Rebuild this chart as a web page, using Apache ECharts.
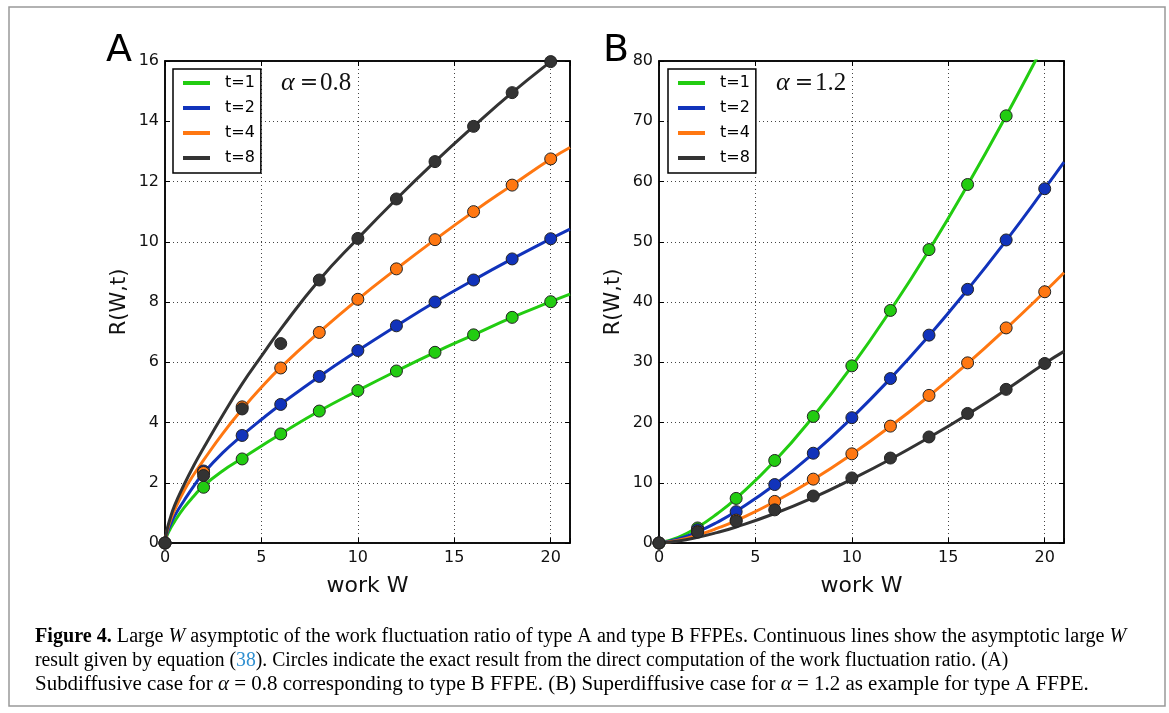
<!DOCTYPE html>
<html>
<head>
<meta charset="utf-8">
<script src="https://cdn.jsdelivr.net/npm/echarts@6/dist/echarts.min.js"></script>
<style>
html,body{margin:0;padding:0;background:#fff;}
#c{width:1169px;height:713px;}
</style>
</head>
<body>
<div id="c"></div>
<script>
// ---------- data ----------
const seriesNames = ['t=1', 't=2', 't=4', 't=8'];
const colors = ['#22cc11', '#1133bb', '#ff7711', '#333333'];

// Panel A (alpha = 0.8): asymptotic lines
const wLineA = [0, 0.1, 0.25, 0.5, 1, 1.5, 2, 3, 4, 5, 6, 8, 10, 12, 14, 16, 18, 20, 21];
const lineA_t1 = [0, 0.24, 0.44, 0.72, 1.18, 1.56, 1.90, 2.40, 2.81, 3.22, 3.62, 4.38, 5.06, 5.71, 6.33, 6.91, 7.49, 8.01, 8.26];
const lineA_t2 = [0, 0.30, 0.56, 0.90, 1.42, 1.90, 2.32, 3.00, 3.57, 4.10, 4.60, 5.53, 6.39, 7.21, 8.00, 8.73, 9.43, 10.10, 10.42];
const lineA_t4 = [0, 0.38, 0.70, 1.10, 1.75, 2.28, 2.75, 3.64, 4.44, 5.17, 5.83, 7.00, 8.09, 9.10, 10.07, 11.00, 11.88, 12.75, 13.13];
const lineA_t8 = [0, 0.42, 0.78, 1.25, 1.95, 2.58, 3.15, 4.25, 5.28, 6.20, 7.10, 8.73, 10.11, 11.42, 12.66, 13.83, 14.95, 15.98, 16.45];

// Panel A: exact result (circles)
const wDotA = [0, 2, 4, 6, 8, 10, 12, 14, 16, 18, 20];
const dotA_t1 = [0, 1.85, 2.79, 3.62, 4.38, 5.06, 5.71, 6.33, 6.91, 7.49, 8.01];
const dotA_t2 = [0, 2.39, 3.57, 4.60, 5.53, 6.39, 7.21, 8.00, 8.73, 9.43, 10.10];
const dotA_t4 = [0, 2.34, 4.52, 5.81, 6.99, 8.09, 9.10, 10.07, 11.00, 11.88, 12.75];
const dotA_t8 = [0, 2.24, 4.45, 6.62, 8.73, 10.11, 11.42, 12.66, 13.83, 14.95, 15.98];

// Panel B (alpha = 1.2): asymptotic lines
const wLineB = [0, 1, 2, 3, 4, 6, 8, 10, 12, 14, 16, 18, 20, 21];
const lineB_t1 = [0, 0.93, 2.62, 4.82, 7.42, 13.6, 21.0, 29.35, 38.6, 48.6, 59.4, 70.9, 83.0, 89.3];
const lineB_t2 = [0, 0.66, 1.86, 3.41, 5.26, 9.66, 14.87, 20.78, 27.3, 34.4, 42.05, 50.2, 58.8, 63.2];
const lineB_t4 = [0, 0.47, 1.32, 2.42, 3.73, 6.85, 10.54, 14.74, 19.37, 24.4, 29.8, 35.6, 41.7, 44.85];
const lineB_t8 = [0, 0.33, 0.94, 1.73, 2.66, 4.9, 7.55, 10.6, 13.9, 17.5, 21.35, 25.45, 29.8, 31.8];

// Panel B: exact result (circles)
const wDotB = [0, 2, 4, 6, 8, 10, 12, 14, 16, 18, 20];
const dotB_t1 = [0, 2.5, 7.4, 13.7, 21.0, 29.4, 38.6, 48.7, 59.5, 70.9];
const dotB_t2 = [0, 2.2, 5.2, 9.7, 14.9, 20.8, 27.3, 34.5, 42.1, 50.3, 58.8];
const dotB_t4 = [0, 1.9, 3.8, 6.9, 10.6, 14.8, 19.4, 24.5, 29.9, 35.7, 41.7];
const dotB_t8 = [0, 1.8, 3.6, 5.5, 7.8, 10.8, 14.1, 17.6, 21.5, 25.5, 29.8];

const xTicks = [0, 5, 10, 15, 20];

// ---------- build ----------
const pair = (xs, ys) => ys.map((y, i) => [xs[i], y]);
const linesA = [lineA_t1, lineA_t2, lineA_t4, lineA_t8];
const dotsA = [dotA_t1, dotA_t2, dotA_t4, dotA_t8];
const linesB = [lineB_t1, lineB_t2, lineB_t4, lineB_t8];
const dotsB = [dotB_t1, dotB_t2, dotB_t4, dotB_t8];

const FONT = 'DejaVu Sans';
const gridW = 405, gridH = 482, gridTop = 61;
const grids = [
  {left: 165, top: gridTop, width: gridW, height: gridH},
  {left: 659, top: gridTop, width: gridW, height: gridH}
];

function xAxisMain(g) {
  return {
    gridIndex: g, type: 'value', min: 0, max: 21, interval: 5,
    axisLine: {show: true, onZero: false, lineStyle: {color: '#000', width: 1.5}},
    axisTick: {show: true, inside: true, length: 5, lineStyle: {color: '#000', width: 1}},
    axisLabel: {color: '#111', fontSize: 16, fontFamily: FONT, margin: 7,
      formatter: v => (xTicks.indexOf(v) >= 0 ? String(v) : '')},
    splitLine: {show: true, lineStyle: {color: '#444', width: 1, type: [1, 3]}},
    name: 'work W', nameLocation: 'middle', nameGap: 32,
    nameTextStyle: {fontSize: 22, fontFamily: FONT, color: '#111'}
  };
}
function xAxisTop(g) {
  return {
    gridIndex: g, type: 'value', min: 0, max: 21, interval: 5, position: 'top',
    axisLine: {show: true, onZero: false, lineStyle: {color: '#000', width: 1.5}},
    axisTick: {show: true, inside: true, length: 5, lineStyle: {color: '#000'}},
    axisLabel: {show: false}, splitLine: {show: false}
  };
}
function yAxisMain(g, max, interval) {
  return {
    gridIndex: g, type: 'value', min: 0, max: max, interval: interval,
    axisLine: {show: true, onZero: false, lineStyle: {color: '#000', width: 1.5}},
    axisTick: {show: true, inside: true, length: 5, lineStyle: {color: '#000'}},
    axisLabel: {color: '#111', fontSize: 16, fontFamily: FONT, margin: 6},
    splitLine: {show: true, lineStyle: {color: '#444', width: 1, type: [1, 3]}},
    name: 'R(W,t)', nameLocation: 'middle', nameGap: 35, nameRotate: 90,
    nameTextStyle: {fontSize: 21, fontFamily: FONT, color: '#111'}
  };
}
function yAxisRight(g, max, interval) {
  return {
    gridIndex: g, type: 'value', min: 0, max: max, interval: interval, position: 'right',
    axisLine: {show: true, onZero: false, lineStyle: {color: '#000', width: 1.5}},
    axisTick: {show: true, inside: true, length: 5, lineStyle: {color: '#000'}},
    axisLabel: {show: false}, splitLine: {show: false}
  };
}

const series = [];
function addPanel(g, lineXs, lines, dotXs, dots) {
  lines.forEach((ys, i) => {
    series.push({
      name: seriesNames[i], type: 'line', xAxisIndex: g * 2, yAxisIndex: g * 2,
      data: pair(lineXs, ys), smooth: true, symbol: 'none', showSymbol: false,
      lineStyle: {color: colors[i], width: 3}, itemStyle: {color: colors[i]},
      clip: true, z: 2
    });
  });
  dots.forEach((ys, i) => {
    series.push({
      name: seriesNames[i] + ' exact', type: 'scatter', xAxisIndex: g * 2, yAxisIndex: g * 2,
      data: pair(dotXs, ys), symbol: 'circle', symbolSize: 12,
      itemStyle: {color: colors[i], borderColor: '#222', borderWidth: 1, opacity: 1},
      z: 3 + i
    });
  });
}
addPanel(0, wLineA, linesA, wDotA, dotsA);
addPanel(1, wLineB, linesB, wDotB, dotsB);

function legendAt(left) {
  return {
    left: left, top: 69, orient: 'vertical',
    data: seriesNames.map((n, i) => ({name: n, icon: 'rect', itemStyle: {color: colors[i]}})),
    itemWidth: 27, itemHeight: 4, itemGap: 9,
    padding: [6, 6, 7, 10],
    borderColor: '#000', borderWidth: 1.5, borderRadius: 0, backgroundColor: '#fff',
    selectedMode: false,
    textStyle: {fontSize: 16, fontFamily: FONT, color: '#000', padding: [0, 0, 0, 10]}
  };
}

const CAP = 20;
const capBase = {fontFamily: 'Liberation Serif', fontSize: CAP, fill: '#000', verticalAlign: 'middle', align: 'left'};
const capRich = {
  b: {fontFamily: 'Liberation Serif', fontSize: CAP, fontWeight: 'bold', fill: '#000'},
  i: {fontFamily: 'Liberation Serif', fontSize: CAP, fontStyle: 'italic', fill: '#000'},
  l: {fontFamily: 'Liberation Serif', fontSize: CAP, fill: '#2f8fd0'}
};
function capLine(y, sx, text) {
  return {type: 'text', x: 35, y: y, scaleX: sx, scaleY: 1,
    style: Object.assign({}, capBase, {x: 0, y: 0, text: text, rich: capRich})};
}
function alphaLabel(x, val) {
  return {type: 'text', left: x, top: 70,
    style: {text: '{a|α}{e|=}{n|' + val + '}', fill: '#111',
      rich: {
        a: {fontFamily: 'Liberation Serif', fontStyle: 'italic', fontSize: 26, fill: '#111'},
        e: {fontFamily: 'DejaVu Serif', fontSize: 22, fill: '#111', padding: [0, 2, 0, 5]},
        n: {fontFamily: 'Liberation Serif', fontSize: 25, fill: '#111'}
      }}};
}

const option = {
  animation: false,
  backgroundColor: '#fff',
  grid: grids.map(g => Object.assign({show: true, borderColor: '#000', borderWidth: 1.5, backgroundColor: 'rgba(0,0,0,0)'}, g)),
  xAxis: [xAxisMain(0), xAxisTop(0), xAxisMain(1), xAxisTop(1)],
  yAxis: [yAxisMain(0, 16, 2), yAxisRight(0, 16, 2), yAxisMain(1, 80, 10), yAxisRight(1, 80, 10)],
  legend: [legendAt(173), legendAt(668)],
  series: series,
  graphic: [
    {type: 'rect', shape: {x: 9, y: 7, width: 1156, height: 699}, style: {fill: 'none', stroke: '#999', lineWidth: 1.5}, silent: true},
    {type: 'text', left: 106, top: 32, style: {text: 'A', fontFamily: FONT, fontSize: 38, fill: '#000'}},
    {type: 'text', left: 603, top: 32, style: {text: 'B', fontFamily: FONT, fontSize: 38, fill: '#000'}},
    alphaLabel(281, '0.8'),
    alphaLabel(776, '1.2'),
    capLine(637, 1.007, '{b|Figure 4.} Large {i|W} asymptotic of the work fluctuation ratio of type A and type B FFPEs. Continuous lines show the asymptotic large {i|W}'),
    capLine(661, 0.984, 'result given by equation ({l|38}). Circles indicate the exact result from the direct computation of the work fluctuation ratio. (A)'),
    capLine(685, 1.048, 'Subdiffusive case for {i|α} = 0.8 corresponding to type B FFPE. (B) Superdiffusive case for {i|α} = 1.2 as example for type A FFPE.')
  ]
};

const chart = echarts.init(document.getElementById('c'), null, {renderer: 'canvas'});
chart.setOption(option);
</script>
</body>
</html>
